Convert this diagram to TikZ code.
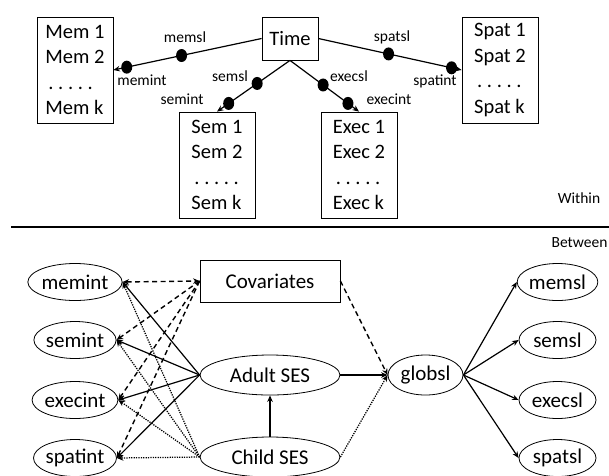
\documentclass[tikz,border=0pt]{standalone}
\usepackage{fontspec}
\setmainfont{Carlito}
\usetikzlibrary{shapes.geometric,arrows.meta}
\frenchspacing
\begin{document}
\begin{tikzpicture}[x=1pt,y=-1pt,
  >={Stealth[length=6.5pt,width=5.5pt]},
  listbox/.style={draw, line width=0.8pt, minimum width=76pt, minimum height=106pt,
    inner sep=0pt, align=left, font=\fontsize{20.5}{25.5}\selectfont},
  timebox/.style={draw, line width=0.8pt, minimum width=56pt, minimum height=43pt,
    inner sep=0pt, font=\fontsize{20.5}{24}\selectfont},
  covbox/.style={draw, line width=0.8pt, minimum width=140pt, minimum height=42pt,
    inner sep=0pt, font=\fontsize{21}{24}\selectfont},
  ell/.style={ellipse, draw, line width=0.8pt, minimum width=77pt, minimum height=37pt,
    inner sep=0pt, font=\fontsize{21}{24}\selectfont},
  bigell/.style={ellipse, draw, line width=0.8pt, minimum width=140pt, minimum height=40pt,
    inner sep=0pt, font=\fontsize{21}{24}\selectfont},
  lab/.style={inner sep=0pt, font=\fontsize{15.5}{18}\selectfont},
  bead/.style={ellipse, fill, inner sep=0pt, minimum width=11pt, minimum height=13pt},
  conn/.style={line width=1.2pt},
  dsh/.style={line width=1.4pt, dash pattern=on 5pt off 3.5pt},
  dtt/.style={line width=1.25pt, dash pattern=on 1.25pt off 1.15pt}
]
\useasboundingbox (0,0) rectangle (609,475);

% ---------- Within ----------
\node[listbox] (mem) at (75,70) {Mem 1\\Mem 2\\\hspace*{3pt}. . . . .\\Mem k};
\node[listbox] (spat) at (500,70) {Spat 1\\Spat 2\\\hspace*{3pt}. . . . .\\Spat k};
\node[listbox] (sem) at (217,165) {Sem 1\\Sem 2\\\hspace*{3pt}. . . . .\\Sem k};
\node[listbox] (exec) at (359,165) {Exec 1\\Exec 2\\\hspace*{3pt}. . . . .\\Exec k};
\node[timebox] (time) at (290,38.5) {Time};

\draw[conn,->] (time.west) -- node[bead,pos=0.54] (b1) {} node[bead,pos=0.91] (b2) {} (mem.east);
\draw[conn,->] (time.south) -- node[bead,pos=0.45] (b3) {} node[bead,pos=0.84] (b4) {} (sem.north);
\draw[conn,->] (time.south) -- node[bead,pos=0.48] (b5) {} node[bead,pos=0.84] (b6) {} (exec.north);
\draw[conn,->] (time.east) -- node[bead,pos=0.49] (b7) {} node[bead,pos=0.93] (b8) {} (spat.west);

\node[lab] (lmemsl) at (185,37) {memsl};
\node[lab] (lmemint) at (142,80) {memint};
\node[lab] (lsemsl) at (230,76) {semsl};
\node[lab] (lsemint) at (182,99) {semint};
\node[lab] (lexecsl) at (349,76) {execsl};
\node[lab] (lexecint) at (389,99) {execint};
\node[lab] (lspatsl) at (392,37) {spatsl};
\node[lab] (lspatint) at (435,81) {spatint};
\node[lab] (within) at (579,198) {Within};

\coordinate (sepL) at (11,226.5);
\coordinate (sepR) at (609,226.5);
\draw[line width=2pt] (sepL) -- (sepR);

% ---------- Between ----------
\node[lab] (between) at (579.5,243) {Between};

\node[ell] (memint) at (75,282) {memint};
\node[ell] (semint) at (75,340) {semint};
\node[ell] (execint) at (75,400) {execint};
\node[ell] (spatint) at (75,458) {spatint};

\node[covbox] (cov) at (270,281) {Covariates};
\node[bigell] (adult) at (270,375) {Adult SES};
\node[bigell] (child) at (270,457) {Child SES};
\node[ell, minimum width=75pt, minimum height=40pt] (globsl) at (425.5,375) {globsl};

\node[ell] (memsl) at (557.5,282) {memsl};
\node[ell] (semsl) at (557.5,340) {semsl};
\node[ell] (execsl) at (557.5,400) {execsl};
\node[ell] (spatsl) at (557.5,458) {spatsl};

% covariates (dashed)
\draw[dsh,<->] (memint.east) -- (cov.west);
\draw[dsh,->] (cov.west) -- (semint.east);
\draw[dsh,->] (cov.west) -- (execint.east);
\draw[dsh,->] (cov.west) -- (spatint.east);
\draw[dsh,->] (cov.east) -- (globsl.west);

% adult SES (solid)
\draw[conn,->] (adult.west) -- (memint.east);
\draw[conn,->] (adult.west) -- (semint.east);
\draw[conn,->] (adult.west) -- (execint.east);
\draw[conn,->] (adult.west) -- (spatint.east);
\draw[conn,->] (adult.east) -- (globsl.west);

% child SES (dotted)
\draw[dtt,->] (child.west) -- (memint.east);
\draw[dtt,->] (child.west) -- (semint.east);
\draw[dtt,->] (child.west) -- (execint.east);
\draw[dtt,->] (child.west) -- (spatint.east);
\draw[dtt,->] (child.east) -- (globsl.west);
\draw[conn,->] (child.north) -- (adult.south);

% globsl to slopes
\draw[conn,->] (globsl.east) -- (memsl.west);
\draw[conn,->] (globsl.east) -- (semsl.west);
\draw[conn,->] (globsl.east) -- (execsl.west);
\draw[conn,->] (globsl.east) -- (spatsl.west);
\end{tikzpicture}
\end{document}
